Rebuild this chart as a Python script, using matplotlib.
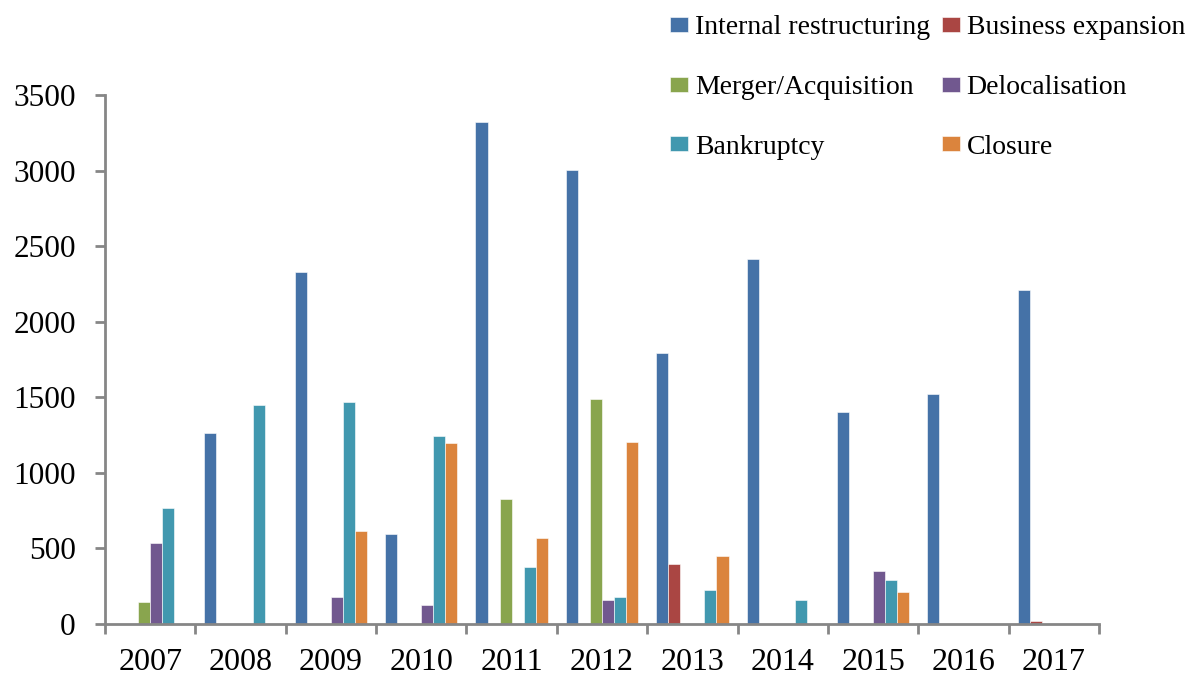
import numpy as np
import matplotlib
matplotlib.use('Agg')
import matplotlib.pyplot as plt

years = ['2007', '2008', '2009', '2010', '2011', '2012', '2013', '2014', '2015', '2016', '2017']

internal_restructuring = [0, 1265, 2330, 595, 3320, 3005, 1790, 2415, 1405, 1520, 2210]
business_expansion = [0, 0, 0, 0, 0, 0, 400, 0, 0, 0, 18]
merger_acquisition = [143, 0, 0, 0, 830, 1490, 0, 0, 0, 0, 0]
delocalisation = [535, 0, 180, 126, 0, 157, 0, 0, 350, 0, 0]
bankruptcy = [767, 1450, 1467, 1244, 375, 181, 223, 159, 290, 0, 0]
closure = [0, 0, 613, 1197, 572, 1207, 450, 0, 210, 0, 0]

series_names = ['Internal restructuring', 'Business expansion', 'Merger/Acquisition',
                'Delocalisation', 'Bankruptcy', 'Closure']
series_values = [internal_restructuring, business_expansion, merger_acquisition,
                 delocalisation, bankruptcy, closure]
colors = ['#4572A7', '#AA4643', '#89A54E', '#71588F', '#4198AF', '#DB843D']

plt.rcParams['font.family'] = ['Liberation Serif', 'DejaVu Serif']

fig = plt.figure(figsize=(12.02, 6.78), dpi=100)
ax = fig.add_axes([105 / 1202, 54 / 678, 994 / 1202, 529 / 678])

x = np.arange(len(years))
width = 0.8 / 6
bars = []
for i, (name, vals, c) in enumerate(zip(series_names, series_values, colors)):
    offset = -0.4 + width * (i + 0.5)
    b = ax.bar(x + offset, vals, width=width, color=c, label=name,
               edgecolor='white', linewidth=0.4)
    bars.append(b)

ax.set_xlim(-0.5, len(years) - 0.5)
ax.set_ylim(0, 3500)
ax.set_yticks(np.arange(0, 3501, 500))

ax.set_xticks(x)
ax.set_xticklabels(years)
ax.set_xticks(np.arange(-0.5, len(years)), minor=True)

spine_color = '#868686'
for s in ['top', 'right']:
    ax.spines[s].set_visible(False)
for s in ['left', 'bottom']:
    ax.spines[s].set_color(spine_color)
    ax.spines[s].set_linewidth(2)

ax.tick_params(axis='x', which='major', length=0, pad=17, labelsize=23)
ax.tick_params(axis='x', which='minor', length=7, width=2, color=spine_color, direction='out')
ax.tick_params(axis='y', length=7, width=2, color=spine_color, pad=14, labelsize=22.5)

# legend fills row by row in the reference, so reorder for column filling
order = [0, 2, 4, 1, 3, 5]
ax.legend([bars[i] for i in order], [series_names[i] for i in order],
          loc='upper left', bbox_to_anchor=(655 / 1202, 1.0), bbox_transform=fig.transFigure,
          ncol=2, frameon=False, fontsize=20, handlelength=0.65, handleheight=0.45,
          handletextpad=0.25, columnspacing=0.4, labelspacing=1.25, borderaxespad=0.15)

plt.savefig('out.png', dpi=100)
